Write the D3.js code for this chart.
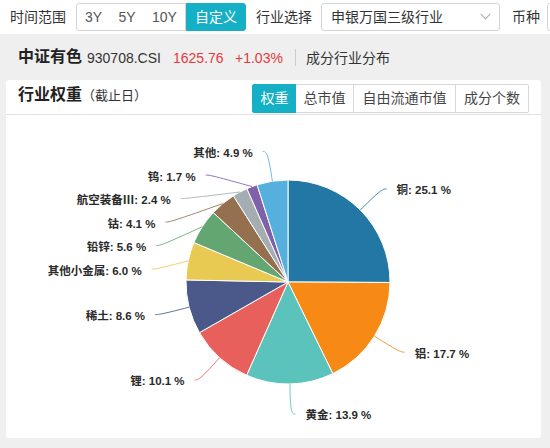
<!DOCTYPE html>
<html>
<head>
<meta charset="utf-8">
<script src="https://cdn.jsdelivr.net/npm/d3@7"></script>
<style>
  body { margin: 0; width: 550px; height: 448px; overflow: hidden; background: #efefef;
         font-family: "Liberation Sans", "Noto Sans CJK SC", sans-serif; color: #333; position: relative; }
  .abs { position: absolute; white-space: nowrap; }
  .topbar { left: 0; top: 0; width: 550px; height: 34px; background: #fff; }
  .lbl { font-size: 14px; line-height: 18px; }
  .btn { top: 3px; height: 26px; border: 1px solid #d4d4d4; box-sizing: content-box;
         font-size: 14px; line-height: 26px; text-align: center; color: #555; background: #fff; }
  .btn.on { background: #15b0c6; border-color: #15b0c6; color: #fff; }
  .tab { top: 84px; height: 27px; border: 1px solid #d8d8d8; font-size: 14px; line-height: 27px;
         text-align: center; color: #444; background: #fff; }
  .tab.on { background: #15b0c6; border-color: #15b0c6; color: #fff; }
  .card { left: 6px; top: 80px; width: 535px; height: 358px; background: #fff; border-radius: 3px; }
</style>
</head>
<body>
<div class="abs topbar"></div>
<div class="abs lbl" style="left:10px;top:8px;">时间范围</div>
<div class="abs btn" style="left:76px;width:33px;border-radius:3px 0 0 3px;">3Y</div>
<div class="abs btn" style="left:110px;width:34px;border-left:none;">5Y</div>
<div class="abs btn" style="left:144px;width:41px;border-left:none;">10Y</div>
<div class="abs btn on" style="left:186px;width:58px;border-radius:0 3px 3px 0;">自定义</div>
<div class="abs lbl" style="left:256px;top:8px;">行业选择</div>
<div class="abs" style="left:321px;top:3px;width:177px;height:26px;border:1px solid #d4d4d4;border-radius:3px;"></div>
<div class="abs lbl" style="left:331px;top:8px;">申银万国三级行业</div>
<div class="abs" style="left:482px;top:11px;width:6px;height:6px;border-right:1px solid #aaa;border-bottom:1px solid #aaa;transform:rotate(45deg);"></div>
<div class="abs lbl" style="left:512px;top:8px;">币种</div>
<div class="abs" style="left:547px;top:3px;width:20px;height:26px;border:1px solid #d4d4d4;border-radius:3px;"></div>

<div class="abs" style="left:18px;top:47px;font-size:16px;font-weight:bold;line-height:20px;color:#222;">中证有色</div>
<div class="abs lbl" style="left:87px;top:49px;">930708.CSI</div>
<div class="abs lbl" style="left:173px;top:49px;color:#e4393c;">1625.76</div>
<div class="abs lbl" style="left:235px;top:49px;color:#e4393c;">+1.03%</div>
<div class="abs" style="left:295px;top:49px;width:1px;height:17px;background:#ccc;"></div>
<div class="abs lbl" style="left:306px;top:49px;">成分行业分布</div>

<div class="abs card"></div>
<div class="abs" style="left:6px;top:114px;width:535px;height:1px;background:#e2e2e2;"></div>
<div class="abs" style="left:18px;top:85px;font-size:16px;font-weight:bold;line-height:20px;color:#222;">行业权重</div>
<div class="abs" style="left:82px;top:87px;font-size:13px;line-height:17px;">（截止日）</div>
<div class="abs tab on" style="left:252px;width:43px;border-radius:2px 0 0 2px;">权重</div>
<div class="abs tab" style="left:296px;width:57px;border-left:none;">总市值</div>
<div class="abs tab" style="left:354px;width:101px;border-left:none;">自由流通市值</div>
<div class="abs tab" style="left:456px;width:72px;border-left:none;border-radius:0 2px 2px 0;">成分个数</div>

<svg id="chart" class="abs" style="left:6px;top:115px;" width="535" height="323"></svg>

<script>
// 行业权重 (%)
const categories = ["铜", "铝", "黄金", "锂", "稀土", "其他小金属", "铅锌", "钴", "航空装备Ⅲ", "钨", "其他"];
const weights = [25.1, 17.7, 13.9, 10.1, 8.6, 6.0, 5.6, 4.1, 2.4, 1.7, 4.9];
const colors = ["#2377a4", "#f68a14", "#5bc2bc", "#e8605c", "#4a5989", "#e8c952",
                "#63a672", "#94704f", "#a3adb2", "#7f60a9", "#55b0de"];

const drawPie = () => {
  const cx = 282, cy = 167;
  const radius = 102;
  const labelRadius = radius + 30; // where the label line bends
  const lineTail = 5;
  const textGap = 10;
  const rowHeight = 23.5;

  const svg = d3.select("#chart");
  const g = svg.append("g").attr("transform", "translate(" + cx + "," + cy + ")");

  const pie = d3.pie().sort(null).value((d) => d.value);
  const arc = d3.arc().innerRadius(0).outerRadius(radius);

  const data = categories.map((c, i) => ({ name: c, value: weights[i], color: colors[i] }));
  const arcs = pie(data);

  g.selectAll("path.slice")
    .data(arcs)
    .enter()
    .append("path")
    .attr("class", "slice")
    .attr("d", arc)
    .attr("fill", (d) => d.data.color)
    .attr("stroke", "#fff")
    .attr("stroke-width", 1);

  // label positions, pushed apart like the original chart does
  const labels = arcs.map((d) => {
    const a = (d.startAngle + d.endAngle) / 2;
    const side = Math.sin(a) >= 0 ? 1 : -1;
    return {
      d: d, side: side,
      ex: Math.sin(a) * radius, ey: -Math.cos(a) * radius,
      y: -Math.cos(a) * labelRadius
    };
  });
  [1, -1].forEach((side) => {
    const list = labels.filter((l) => l.side === side).sort((p, q) => p.y - q.y);
    for (var i = 1; i < list.length; i++) {
      if (list[i].y < list[i - 1].y + rowHeight) list[i].y = list[i - 1].y + rowHeight;
    }
  });
  labels.forEach((l) => {
    l.x = l.side * Math.sqrt(Math.max(0, labelRadius * labelRadius - l.y * l.y));
  });

  const line = d3.line().curve(d3.curveBasis);
  g.selectAll("path.leader")
    .data(labels)
    .enter()
    .append("path")
    .attr("class", "leader")
    .attr("d", (l) => line([[l.ex, l.ey], [l.x, l.y], [l.x + l.side * lineTail, l.y]]))
    .attr("fill", "none")
    .attr("stroke", (l) => l.d.data.color)
    .attr("stroke-opacity", 0.85)
    .attr("stroke-width", 1);

  g.selectAll("text.slice-label")
    .data(labels)
    .enter()
    .append("text")
    .attr("class", "slice-label")
    .attr("x", (l) => l.x + l.side * (lineTail + textGap))
    .attr("y", (l) => l.y + 1.5)
    .attr("text-anchor", (l) => l.side > 0 ? "start" : "end")
    .attr("dominant-baseline", "central")
    .attr("font-family", "'Liberation Sans', 'Noto Sans CJK SC', sans-serif")
    .attr("font-size", 11.5)
    .attr("font-weight", "bold")
    .attr("fill", "#2a2a2a")
    .text((l) => l.d.data.name + ": " + l.d.data.value.toFixed(1) + " %");
};

document.addEventListener('DOMContentLoaded', drawPie, false);
</script>
</body>
</html>
